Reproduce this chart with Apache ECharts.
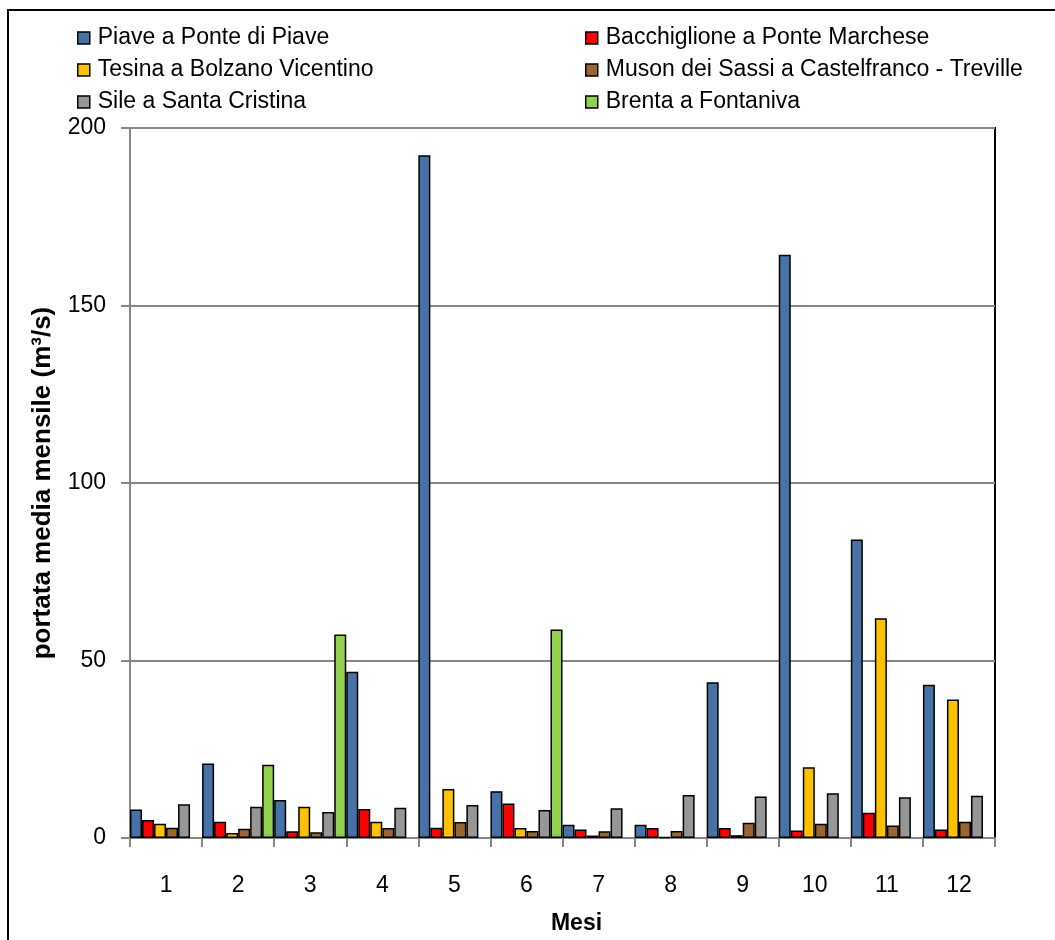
<!DOCTYPE html>
<html>
<head>
<meta charset="utf-8">
<script src="https://cdn.jsdelivr.net/npm/echarts@6/dist/echarts.min.js"></script>
<style>
html,body{margin:0;padding:0;background:#fff;}
#chart{width:1055px;height:940px;}
</style>
</head>
<body>
<div id="chart"></div>
<script>
const categories = ['1','2','3','4','5','6','7','8','9','10','11','12'];
const seriesNames = [
  'Piave a Ponte di Piave',
  'Bacchiglione a Ponte Marchese',
  'Tesina a Bolzano Vicentino',
  'Muson dei Sassi a Castelfranco - Treville',
  'Sile a Santa Cristina',
  'Brenta a Fontaniva'
];
const piave        = [8.0, 21.0, 10.7, 46.8, 192.3, 13.2, 3.7, 3.7, 43.9, 164.3, 84.1, 43.2];
const bacchiglione = [5.1, 4.6, 1.9, 8.2, 2.9, 9.7, 2.4, 2.8, 2.8, 2.1, 7.1, 2.4];
const tesina       = [4.0, 1.4, 8.8, 4.6, 13.8, 2.8, 0.7, 0.3, 0.8, 19.9, 61.9, 39.0];
const muson        = [2.9, 2.6, 1.6, 2.8, 4.5, 2.0, 1.9, 2.0, 4.3, 4.0, 3.5, 4.6];
const sile         = [9.5, 8.8, 7.3, 8.5, 9.3, 7.9, 8.4, 12.1, 11.7, 12.6, 11.5, 11.9];
const brenta       = [null, 20.6, 57.3, null, null, 58.7, null, null, null, null, null, null];
const yTicks = [0, 50, 100, 150, 200];

const colors = ['#4672A8', '#FF0000', '#FFC000', '#9A6533', '#969696', '#92D050'];
const allData = [piave, bacchiglione, tesina, muson, sile, brenta];

const FONT = '"Liberation Sans", Arial, sans-serif';

const chart = echarts.init(document.getElementById('chart'), null, {renderer: 'canvas'});

const legendCommon = {
  orient: 'vertical',
  top: 21,
  itemWidth: 12,
  itemHeight: 12,
  itemGap: 8,
  icon: 'rect',
  selectedMode: false,
  itemStyle: {borderColor: '#000', borderWidth: 1.5},
  textStyle: {fontFamily: FONT, fontSize: 23, color: '#000', lineHeight: 24, padding: [0, 0, 0, 3]}
};

const option = {
  animation: false,
  backgroundColor: '#fff',
  color: colors,
  graphic: [{
    type: 'rect',
    shape: {x: 8, y: 10, width: 1100, height: 1000},
    style: {fill: 'none', stroke: '#000', lineWidth: 2},
    z: 0, silent: true
  }],
  legend: [
    Object.assign({}, legendCommon, {left: 72, data: [seriesNames[0], seriesNames[2], seriesNames[4]]}),
    Object.assign({}, legendCommon, {left: 580, data: [seriesNames[1], seriesNames[3], seriesNames[5]]})
  ],
  grid: {
    left: 130, right: 60, top: 128, bottom: 93,
    show: true, borderColor: '#000', borderWidth: 2, backgroundColor: 'transparent'
  },
  xAxis: {
    type: 'category',
    data: categories,
    name: 'Mesi',
    nameLocation: 'middle',
    nameGap: 74,
    nameTextStyle: {fontFamily: FONT, fontSize: 23, fontWeight: 'bold', color: '#000', padding: [0, 0, 0, 28]},
    axisLine: {lineStyle: {color: '#868686', width: 2}},
    axisTick: {show: true, alignWithLabel: false, length: 9, lineStyle: {color: '#868686', width: 2}},
    axisLabel: {fontFamily: FONT, fontSize: 23, color: '#000', margin: 36},
    splitLine: {show: false}
  },
  yAxis: {
    type: 'value',
    min: 0, max: 200, interval: 50,
    name: 'portata media mensile (m³/s)',
    nameLocation: 'middle',
    nameGap: 74,
    nameTextStyle: {fontFamily: FONT, fontSize: 26, fontWeight: 'bold', color: '#000'},
    axisLine: {show: true, lineStyle: {color: '#868686', width: 2}},
    axisTick: {show: true, length: 9, lineStyle: {color: '#868686', width: 2}},
    axisLabel: {fontFamily: FONT, fontSize: 23, color: '#000', margin: 24,
      formatter: v => yTicks.includes(v) ? String(v) : ''},
    splitLine: {show: true, lineStyle: {color: '#868686', width: 2}}
  },
  series: seriesNames.map((n, i) => ({
    name: n,
    type: 'bar',
    data: allData[i],
    barGap: '0%',
    barCategoryGap: '0%',
    itemStyle: {color: colors[i], borderColor: '#000', borderWidth: 1.5},
    emphasis: {disabled: true}
  }))
};
chart.setOption(option);
</script>
</body>
</html>
